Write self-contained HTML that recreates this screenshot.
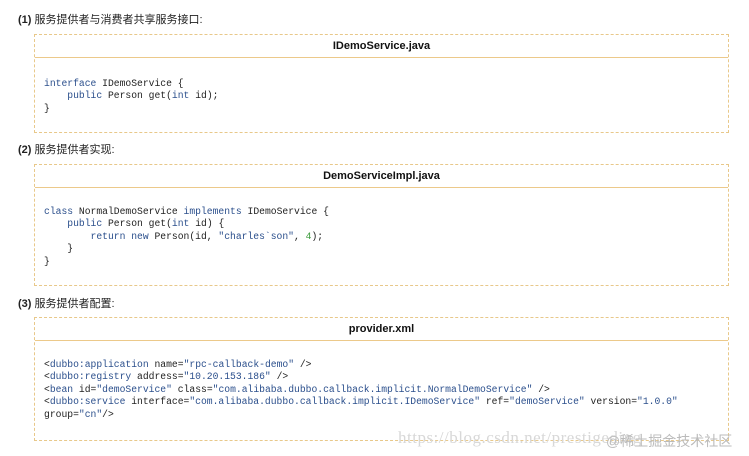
<!DOCTYPE html>
<html><head><meta charset="utf-8"><style>
body{margin:0;width:749px;height:456px;background:#fff;position:relative;overflow:hidden;font-family:"Liberation Sans","Noto Sans CJK SC",sans-serif}
.lbl{position:absolute;left:18px;font-size:11px;color:#222}
.lbl b{font-weight:bold}
.box{position:absolute;left:34px;width:695px;border:1px dashed #e8c88a;box-sizing:border-box}
.hd{position:absolute;left:0;right:0;top:0;height:22px;border-bottom:1px solid #ecc98a;text-align:center;font-weight:bold;font-size:11px;line-height:22px;color:#111}
pre{position:absolute;left:9px;margin:0;font-family:"Liberation Mono",monospace;font-size:9.7px;line-height:12.4px;color:#222}
.k{color:#2b4f8c}.s{color:#2b4f8c}.n{color:#3a9a3a}
.wm{position:absolute;left:398px;top:428px;font-family:"Liberation Serif",serif;font-size:17px;color:#d8d8d8;letter-spacing:0.5px}
.wm2{position:absolute;left:606px;top:431px;font-size:14px;color:#bbb}
</style></head><body>
<div class="lbl" style="top:11px"><b>(1)</b> 服务提供者与消费者共享服务接口:</div>
<div class="box" style="top:34px;height:99px"><div class="hd">IDemoService.java</div>
<pre style="top:43px"><span class="k">interface</span> IDemoService {
    <span class="k">public</span> Person get(<span class="k">int</span> id);
}</pre></div>
<div class="lbl" style="top:141px"><b>(2)</b> 服务提供者实现:</div>
<div class="box" style="top:164px;height:122px"><div class="hd">DemoServiceImpl.java</div>
<pre style="top:41px"><span class="k">class</span> NormalDemoService <span class="k">implements</span> IDemoService {
    <span class="k">public</span> Person get(<span class="k">int</span> id) {
        <span class="k">return new</span> Person(id, <span class="s">"charles`son"</span>, <span class="n">4</span>);
    }
}</pre></div>
<div class="lbl" style="top:295px"><b>(3)</b> 服务提供者配置:</div>
<div class="box" style="top:317px;height:124px"><div class="hd">provider.xml</div>
<pre style="top:41px">&lt;<span class="k">dubbo:application</span> name=<span class="s">"rpc-callback-demo"</span> /&gt;
&lt;<span class="k">dubbo:registry</span> address=<span class="s">"10.20.153.186"</span> /&gt;
&lt;<span class="k">bean</span> id=<span class="s">"demoService"</span> class=<span class="s">"com.alibaba.dubbo.callback.implicit.NormalDemoService"</span> /&gt;
&lt;<span class="k">dubbo:service</span> interface=<span class="s">"com.alibaba.dubbo.callback.implicit.IDemoService"</span> ref=<span class="s">"demoService"</span> version=<span class="s">"1.0.0"</span>
group=<span class="s">"cn"</span>/&gt;</pre></div>
<div class="wm">https://blog.csdn.net/prestigeding</div>
<div class="wm2">@稀土掘金技术社区</div>
</body></html>
